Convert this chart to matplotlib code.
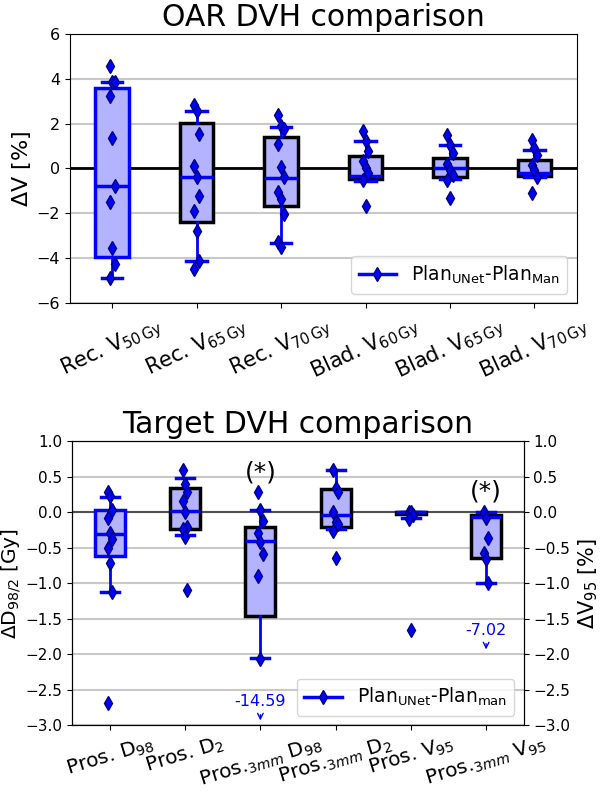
import matplotlib
matplotlib.use('Agg')
import numpy as np
import matplotlib.pyplot as plt
from matplotlib.lines import Line2D

# ---- OAR data (Plan_UNet - Plan_Man, %) ----
oar_labels = [r'Rec. V$_{50\,\mathrm{Gy}}$', r'Rec. V$_{65\,\mathrm{Gy}}$', r'Rec. V$_{70\,\mathrm{Gy}}$',
              r'Blad. V$_{60\,\mathrm{Gy}}$', r'Blad. V$_{65\,\mathrm{Gy}}$', r'Blad. V$_{70\,\mathrm{Gy}}$']
oar_q1 = [-3.93, -2.39, -1.69, -0.45, -0.37, -0.33]
oar_med = [-0.79, -0.37, -0.42, -0.34, 0.0, -0.18]
oar_q3 = [3.58, 2.04, 1.42, 0.55, 0.45, 0.40]
oar_wlo = [-4.87, -4.12, -3.31, -0.55, -0.48, -0.37]
oar_whi = [3.88, 2.55, 1.87, 1.24, 1.04, 0.82]
oar_points = [
    [4.58, 3.88, 3.86, 3.24, 1.37, -0.79, -1.49, -3.54, -4.28, -4.88],
    [2.84, 2.58, 1.52, 0.12, -0.40, -1.22, -1.91, -2.81, -4.12, -4.49],
    [2.39, 1.90, 1.75, 1.09, 0.07, -0.40, -1.07, -1.34, -2.04, -3.28, -3.51],
    [1.69, 1.24, 0.79, 0.33, 0.03, -0.22, -0.52, -1.69],
    [1.49, 1.04, 0.67, 0.19, -0.07, -0.27, -0.52, -1.31],
    [1.27, 0.90, 0.60, 0.15, -0.07, -0.40, -1.09],
]

# ---- Target data ----
tgt_labels = [r'Pros. D$_{98}$', r'Pros. D$_{2}$', r'Pros.$_{3mm}$ D$_{98}$',
              r'Pros.$_{3mm}$ D$_{2}$', r'Pros. V$_{95}$', r'Pros.$_{3mm}$ V$_{95}$']
tgt_q1 = [-0.62, -0.23, -1.46, -0.20, -0.02, -0.64]
tgt_med = [-0.31, 0.02, -0.40, -0.04, 0.0, -0.07]
tgt_q3 = [0.03, 0.34, -0.20, 0.33, 0.01, -0.03]
tgt_wlo = [-1.12, -0.32, -2.05, -0.24, -0.08, -1.0]
tgt_whi = [0.21, 0.48, 0.04, 0.59, 0.0, 0.0]
tgt_points = [
    [0.28, 0.23, 0.04, -0.08, -0.29, -0.38, -0.50, -0.72, -1.12, -2.68],
    [0.60, 0.40, 0.29, 0.16, 0.00, -0.20, -0.24, -0.34, -1.09],
    [0.28, 0.04, -0.12, -0.29, -0.42, -0.58, -0.90, -2.06, -14.59],
    [0.60, 0.34, 0.29, 0.01, -0.13, -0.16, -0.26, -0.64],
    [0.01, 0.0, -0.03, -0.10, -1.66],
    [0.0, -0.08, -0.36, -0.57, -0.66, -1.0, -7.02],
]
# values off the axis, written as text
offaxis_vals = [-14.59, -7.02]
offaxis_pos = [3, 6]
offaxis_texty = [-2.67, -1.67]
star_pos = [3, 6]
star_y = [0.56, 0.30]

box_fc = (0.7, 0.7, 1.0)
edge_cols = ['blue', 'black', 'black', 'black', 'black', 'black']


def draw_boxes(ax, q1, med, q3, wlo, whi, points):
    stats = []
    for i in range(len(q1)):
        stats.append(dict(q1=q1[i], med=med[i], q3=q3[i], whislo=wlo[i], whishi=whi[i], fliers=[]))
    pos = np.arange(1, len(q1) + 1)
    bp = ax.bxp(stats, positions=pos, widths=0.4, patch_artist=True, showfliers=False,
                capwidths=0.24,
                medianprops=dict(color='blue', lw=2.5),
                whiskerprops=dict(color='blue', lw=2),
                capprops=dict(color='blue', lw=2.5),
                zorder=3)
    for patch, ec in zip(bp['boxes'], edge_cols):
        patch.set_facecolor(box_fc)
        patch.set_edgecolor(ec)
        patch.set_linewidth(2.5)
    for i, pts in enumerate(points):
        xs = [pos[i] + ((j % 3) - 1) * 0.03 for j in range(len(pts))]
        ax.plot(xs, pts, 'd', color='blue', mec='#000080', ms=7, zorder=5, clip_on=True)


fig = plt.figure(figsize=(6.02, 7.91), dpi=100)

# ---- top panel ----
ax1 = fig.add_axes([0.116, 0.617, 0.842, 0.340])
ax1.yaxis.grid(True, color='#c8c8c8', lw=1.5, zorder=0)
ax1.set_axisbelow(True)
ax1.axhline(0, color='black', lw=2, zorder=2)
draw_boxes(ax1, oar_q1, oar_med, oar_q3, oar_wlo, oar_whi, oar_points)
ax1.set_xlim(0.5, 6.5)
ax1.set_ylim(-6, 6)
ax1.set_yticks(np.arange(-6, 7, 2))
ax1.set_xticks(np.arange(1, 7))
ax1.set_xticklabels(oar_labels, rotation=25, ha='center', fontsize=15)
ax1.tick_params(axis='y', labelsize=11.5)
ax1.set_ylabel(r'$\Delta$V [%]', fontsize=16)
ax1.yaxis.set_label_coords(-0.072, 0.5)
ax1.set_title('OAR DVH comparison', fontsize=21.5)
h = Line2D([], [], color='blue', lw=2.5, marker='d', mfc='blue', mec='#000080', ms=7)
ax1.legend([h], [r'Plan$_{\mathrm{UNet}}$-Plan$_{\mathrm{Man}}$'], loc='lower right', fontsize=13.5)

# ---- bottom panel ----
ax2 = fig.add_axes([0.120, 0.083, 0.750, 0.359])
ax2.yaxis.grid(True, color='#c8c8c8', lw=1.5, zorder=0)
ax2.set_axisbelow(True)
ax2.axhline(0, color='#505050', lw=1.5, zorder=2)
draw_boxes(ax2, tgt_q1, tgt_med, tgt_q3, tgt_wlo, tgt_whi, tgt_points)
ax2.set_xlim(0.5, 6.5)
ax2.set_ylim(-3, 1)
ax2.set_yticks(np.arange(-3, 1.01, 0.5))
ax2.set_xticks(np.arange(1, 7))
ax2.set_xticklabels(tgt_labels, rotation=17, ha='center', fontsize=14.5)
ax2.tick_params(axis='x', pad=2)
ax2.tick_params(axis='y', labelsize=11)
ax2.set_ylabel(r'$\Delta$D$_{98/2}$ [Gy]', fontsize=14.5)
ax2.yaxis.set_label_coords(-0.108, 0.5)
ax2.set_title('Target DVH comparison', fontsize=21.5)
for p, y in zip(star_pos, star_y):
    ax2.text(p, y, '(*)', ha='center', va='center', fontsize=18, zorder=6)
for p, v, ty in zip(offaxis_pos, offaxis_vals, offaxis_texty):
    ax2.text(p, ty, '%.2f' % v, color='blue', ha='center', va='center', fontsize=11.5, zorder=6)
    ax2.annotate('', xy=(p, ty - 0.30), xytext=(p, ty - 0.14),
                 arrowprops=dict(arrowstyle='->', color='blue', lw=1), zorder=6)
h2 = Line2D([], [], color='blue', lw=2.5, marker='d', mfc='blue', mec='#000080', ms=7)
ax2.legend([h2], [r'Plan$_{\mathrm{UNet}}$-Plan$_{\mathrm{man}}$'], loc='lower right', fontsize=13.5)

ax3 = ax2.twinx()
ax3.set_ylim(-3, 1)
ax3.set_yticks(np.arange(-3, 1.01, 0.5))
ax3.tick_params(axis='y', labelsize=11)
ax3.set_ylabel(r'$\Delta$V$_{95}$ [%]', fontsize=15)

fig.savefig('out.png', dpi=100)
